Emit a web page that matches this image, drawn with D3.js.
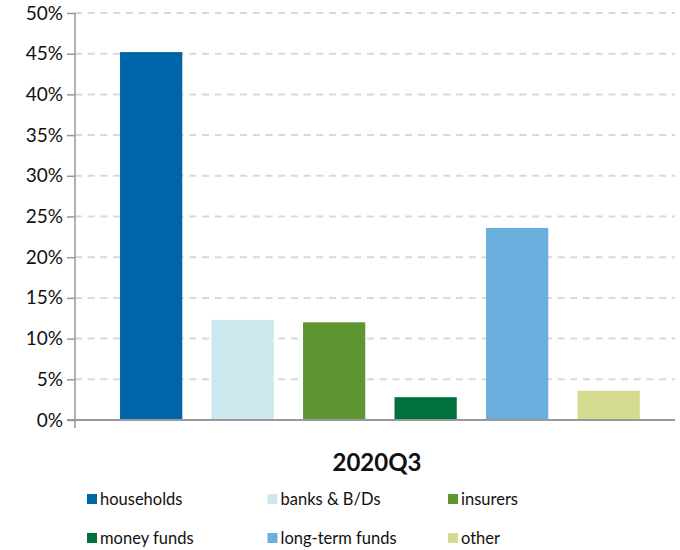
<!DOCTYPE html>
<html>
<head>
<meta charset="utf-8">
<script src="https://cdn.jsdelivr.net/npm/d3@7"></script>
<style>
  html, body { margin: 0; padding: 0; background: #fff; }
  svg { display: block; font-family: Lato, "Open Sans", sans-serif; }
</style>
</head>
<body>
<svg id="chart" width="680" height="550"></svg>
<script>
// Holders' share of the total, 2020Q3
const categories = ["households", "banks & B/Ds", "insurers", "money funds", "long-term funds", "other"];
const shares = [45.2, 12.3, 12.0, 2.8, 23.6, 3.6];
const colors = ["#0064A8", "#CCE8EE", "#5E9732", "#00703C", "#6AAEDE", "#D4DA8F"];
const yTicks = [0, 5, 10, 15, 20, 25, 30, 35, 40, 45, 50];
const periodLabel = "2020Q3";

const svg = d3.select("#chart");
const plot = { left: 75, right: 675, top: 13, bottom: 420 };

const y = d3.scaleLinear().domain([0, 50]).range([plot.bottom, plot.top]);
const x = d3.scaleBand()
  .domain(categories)
  .range([105.4, 654.4])
  .paddingInner(0.32)
  .paddingOuter(0.16);

// dashed horizontal gridlines
svg.append("g")
  .selectAll("line")
  .data(yTicks.filter(d => d > 0))
  .join("line")
  .attr("x1", plot.left)
  .attr("x2", plot.right)
  .attr("y1", d => y(d))
  .attr("y2", d => y(d))
  .attr("stroke", "#D9D9D9")
  .attr("stroke-width", 2)
  .attr("stroke-dasharray", "7,5.7");

// bars
svg.append("g")
  .selectAll("rect")
  .data(categories)
  .join("rect")
  .attr("x", d => x(d))
  .attr("width", x.bandwidth())
  .attr("y", (d, i) => y(shares[i]))
  .attr("height", (d, i) => y(0) - y(shares[i]))
  .attr("fill", (d, i) => colors[i]);

// y axis
const yAxis = d3.axisLeft(y)
  .tickValues(yTicks)
  .tickFormat(d => d + "%")
  .tickSize(8)
  .tickPadding(4);
const gy = svg.append("g")
  .attr("transform", `translate(${plot.left},0)`)
  .call(yAxis);
gy.select(".domain").attr("stroke", "#999").attr("stroke-width", 1.5)
  .attr("d", `M0,${plot.top}V${plot.bottom + 8}`);
gy.selectAll(".tick line").attr("stroke", "#999").attr("stroke-width", 1.5);
gy.selectAll(".tick text")
  .attr("fill", "#111")
  .style("font-size", "19px")
  .style("font-family", "Lato, 'Open Sans', sans-serif");

// x baseline
svg.append("line")
  .attr("x1", plot.left - 8)
  .attr("x2", plot.right)
  .attr("y1", y(0))
  .attr("y2", y(0))
  .attr("stroke", "#999")
  .attr("stroke-width", 2);

// category label
svg.append("text")
  .attr("x", 377)
  .attr("y", 471)
  .attr("text-anchor", "middle")
  .attr("fill", "#111")
  .style("font-size", "24px")
  .style("font-weight", "bold")
  .text(periodLabel);

// legend, three columns by two rows
const legend = svg.append("g")
  .selectAll("g")
  .data(categories)
  .join("g")
  .attr("transform", (d, i) => `translate(${87 + (i % 3) * 180.5},${i < 3 ? 499 : 538})`);
legend.append("rect")
  .attr("x", 0)
  .attr("y", -5)
  .attr("width", 10)
  .attr("height", 10)
  .attr("fill", (d, i) => colors[i]);
legend.append("text")
  .attr("x", 13)
  .attr("y", 0)
  .attr("dy", "0.35em")
  .attr("fill", "#111")
  .style("font-size", "16.5px")
  .text(d => d);
</script>
</body>
</html>
